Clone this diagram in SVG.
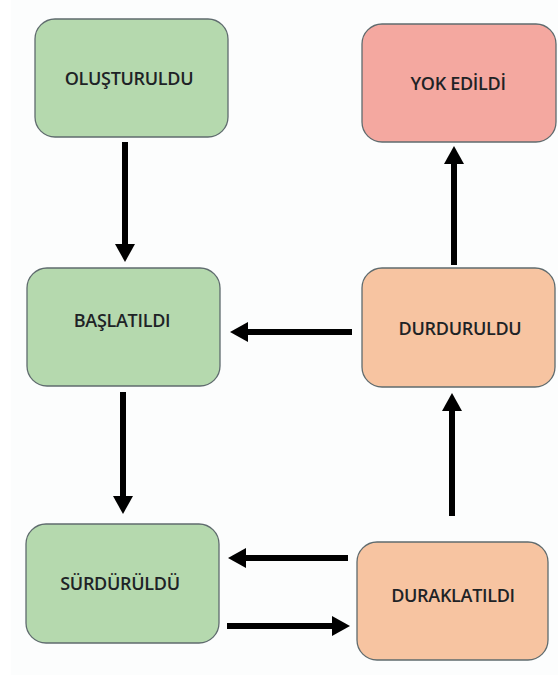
<svg xmlns="http://www.w3.org/2000/svg" width="558" height="675" viewBox="0 0 558 675">
  <defs>
    <marker id="ah" viewBox="0 0 18 20" refX="6" refY="10" markerWidth="18" markerHeight="20" markerUnits="userSpaceOnUse" orient="auto">
      <path d="M0,0 L18,10 L0,20 Z" fill="#000"/>
    </marker>
  </defs>
  <style>
    .box { stroke: #5f6b6e; stroke-width: 1.3; }
    .green { fill: #b5d9ae; }
    .red { fill: #f4a8a0; }
    .peach { fill: #f7c4a1; }
    .lbl { font-family: "Open Sans", "Noto Sans", sans-serif; font-weight: 600; font-size: 18px; letter-spacing: -0.3px; fill: #1e2326; text-anchor: middle; dominant-baseline: central; }
    .conn line { stroke: #000; stroke-width: 6; marker-end: url(#ah); }
  </style>
  <rect x="0" y="0" width="558" height="675" fill="#ffffff"/>
  <rect x="11" y="0" width="547" height="675" fill="#fcfdfd"/>

  <g id="olusturuldu">
    <rect class="box green" x="35" y="19" width="193" height="118" rx="20"/>
    <text class="lbl" x="129" y="78">OLUŞTURULDU</text>
  </g>
  <g id="yok-edildi">
    <rect class="box red" x="362" y="24" width="194" height="118" rx="20"/>
    <text class="lbl" x="458" y="83">YOK EDİLDİ</text>
  </g>
  <g id="baslatildi">
    <rect class="box green" x="27" y="268" width="193" height="118" rx="20"/>
    <text class="lbl" x="122" y="320">BAŞLATILDI</text>
  </g>
  <g id="durduruldu">
    <rect class="box peach" x="362" y="268" width="193" height="119" rx="20"/>
    <text class="lbl" x="460" y="328">DURDURULDU</text>
  </g>
  <g id="surduruldu">
    <rect class="box green" x="26" y="524" width="193" height="119" rx="20"/>
    <text class="lbl" x="120" y="583">SÜRDÜRÜLDÜ</text>
  </g>
  <g id="duraklatildi">
    <rect class="box peach" x="357" y="542" width="191" height="118" rx="20"/>
    <text class="lbl" x="453" y="595">DURAKLATILDI</text>
  </g>

  <g id="connectors" class="conn">
    <line x1="125" y1="142" x2="125" y2="250"/>
    <line x1="123" y1="392" x2="123" y2="502"/>
    <line x1="352" y1="332" x2="242" y2="332"/>
    <line x1="454" y1="265" x2="454" y2="158"/>
    <line x1="452" y1="516" x2="452" y2="405"/>
    <line x1="348" y1="558" x2="240" y2="558"/>
    <line x1="227" y1="626" x2="338" y2="626"/>
  </g>
</svg>
